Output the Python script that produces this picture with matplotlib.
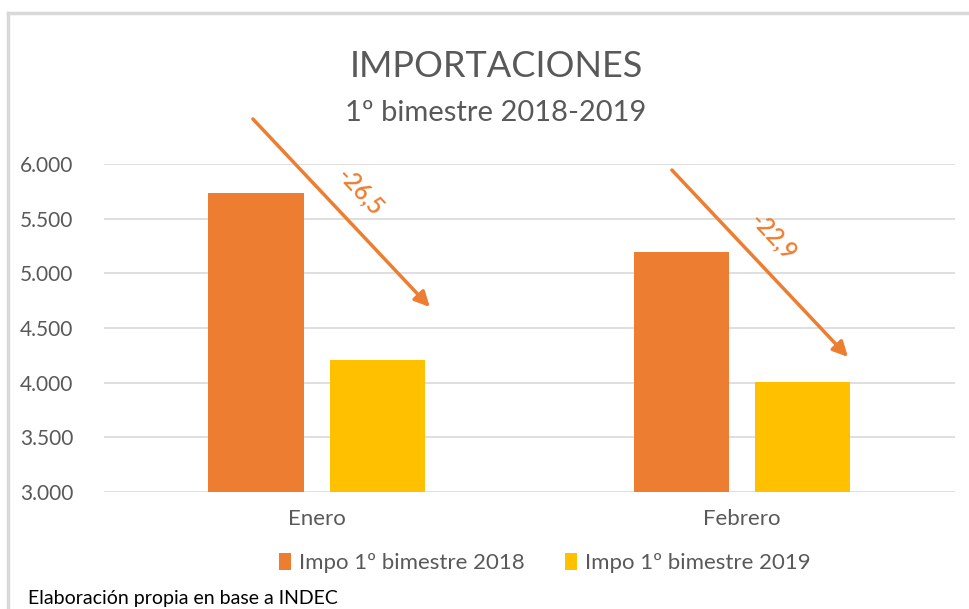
import matplotlib.pyplot as plt
import matplotlib.lines as mlines
import numpy as np

plt.rcParams['font.family'] = ['Lato', 'DejaVu Sans']

months = ["Enero", "Febrero"]
impo_2018 = [5732, 5195]
impo_2019 = [4210, 4005]
series_labels = ["Impo 1º bimestre 2018", "Impo 1º bimestre 2019"]
changes = ["-26,5", "-22,9"]
yticks = [3000, 3500, 4000, 4500, 5000, 5500, 6000]

orange = "#ED7D31"
gold = "#FFC000"
grey_text = "#595959"

fig = plt.figure(figsize=(9.69, 6.09), dpi=100)
ax = fig.add_axes([0.1073, 0.1921, 0.878, 0.5386])

x = np.arange(len(months))
w = 0.224
gap = 0.061
ax.bar(x - (w + gap) / 2, impo_2018, w, color=orange, label=series_labels[0], zorder=3)
ax.bar(x + (w + gap) / 2, impo_2019, w, color=gold, label=series_labels[1], zorder=3)

ax.set_xlim(-0.5, 1.5)
ax.set_ylim(3000, 6000)
ax.set_yticks(yticks)
ax.set_yticklabels([f"{v:,}".replace(",", ".") for v in yticks])
ax.set_xticks(x)
ax.set_xticklabels(months)
ax.tick_params(axis="y", colors=grey_text, labelsize=15, length=0, pad=22)
ax.tick_params(axis="x", colors=grey_text, labelsize=16, length=0, pad=12)
ax.grid(axis="y", color="#D9D9D9", linewidth=1.2, zorder=0)
for s in ax.spines.values():
    s.set_visible(False)

# arrows showing the % drop
arrows = [((-0.150, 6412), (0.266, 4692)), ((0.835, 5945), (1.249, 4235))]
label_pos = [(0.102, 5745), (1.074, 5330)]
for (start, end), pos, txt in zip(arrows, label_pos, changes):
    ax.annotate("", xy=end, xytext=start, annotation_clip=False,
                arrowprops=dict(arrowstyle="-|>,head_length=0.9,head_width=0.45",
                                color=orange, lw=2.5, shrinkA=0, shrinkB=0))
    ax.text(pos[0], pos[1], txt, color=orange, fontsize=17, rotation=-47,
            ha="center", va="center", clip_on=False, fontweight="semibold")

fig.text(0.512, 0.89, "IMPORTACIONES", ha="center", va="center",
         fontsize=26, color=grey_text)
fig.text(0.512, 0.815, "1º bimestre 2018-2019", ha="center", va="center",
         fontsize=21, color=grey_text)

leg = fig.legend(loc="center", bbox_to_anchor=(0.562, 0.075), ncol=2, frameon=False,
                 fontsize=16, handlelength=0.55, handleheight=0.8, handletextpad=0.35,
                 columnspacing=1.8)
for t in leg.get_texts():
    t.set_color(grey_text)

fig.text(0.029, 0.017, "Elaboración propia en base a INDEC", ha="left", va="center",
         fontsize=14, color="black")

# light frame (top and left edges only)
frame = "#D9D9D9"
fig.add_artist(mlines.Line2D([0.0083, 1.0], [0.979, 0.979], color=frame, lw=2.5))
fig.add_artist(mlines.Line2D([0.0083, 0.0083], [0.0, 0.979], color=frame, lw=2.5))

fig.savefig("out.png", dpi=100)
